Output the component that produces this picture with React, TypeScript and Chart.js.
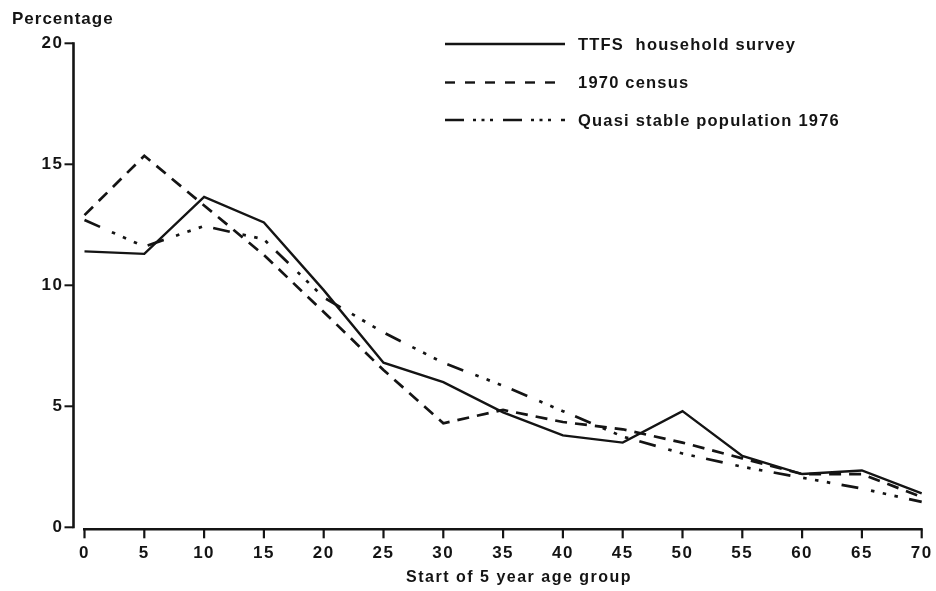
import React, { useEffect, useRef } from 'react';
import { Chart, registerables } from 'chart.js';

Chart.register(...registerables);

// ---- data ----
const ageGroups = ['0', '5', '10', '15', '20', '25', '30', '35', '40', '45', '50', '55', '60', '65', '70'];
const yTickStep = 5;
const yMin = 0;
const yMax = 20;
const ttfsSurvey = [11.4, 11.3, 13.65, 12.6, 9.8, 6.8, 6.0, 4.75, 3.8, 3.5, 4.8, 2.95, 2.2, 2.35, 1.4];
const census1970 = [12.9, 15.35, 13.3, 11.25, 8.9, 6.5, 4.3, 4.85, 4.35, 4.05, 3.5, 2.85, 2.2, 2.2, 1.25];
const quasiStable1976 = [12.7, 11.6, 12.45, 11.9, 9.5, 8.05, 6.8, 5.85, 4.8, 3.75, 3.05, 2.5, 2.05, 1.6, 1.05];
const seriesNames = ['TTFS  household survey', '1970 census', 'Quasi stable population 1976'];
const yAxisTitle = 'Percentage';
const xAxisTitle = 'Start of 5 year age group';

const INK = '#141414';
const FONT = '"Liberation Sans", Arial, Helvetica, sans-serif';

const plotDashes: number[][] = [[], [12, 8], [17, 13, 3.5, 8.5, 3.5, 8.5, 3.5, 11.5]];
const legendDashes: number[][] = [[], [10, 10], [19, 9, 3, 5.5, 3, 5.5, 3, 10]];

const paperAxes = {
  id: 'paperAxes',
  beforeDraw(chart: any) {
    chart.ctx.letterSpacing = '1.5px';
  },
  afterDraw(chart: any) {
    const ctx: CanvasRenderingContext2D = chart.ctx;
    const xs = chart.scales.x;
    const ys = chart.scales.y;
    const { left, right, bottom } = chart.chartArea;
    ctx.save();
    ctx.strokeStyle = INK;
    ctx.fillStyle = INK;
    ctx.setLineDash([]);
    ctx.lineCap = 'butt';

    // y axis line (drawn slightly left of the plotting origin, as in the print)
    const yAxisX = left - 11;
    ctx.lineWidth = 2.6;
    ctx.beginPath();
    ctx.moveTo(yAxisX, ys.getPixelForValue(yMax) - 1);
    ctx.lineTo(yAxisX, ys.getPixelForValue(yMin) + 1);
    ctx.stroke();
    ctx.lineWidth = 2;
    ys.ticks.forEach((t: any) => {
      const py = ys.getPixelForValue(t.value);
      ctx.beginPath();
      ctx.moveTo(yAxisX - 9, py);
      ctx.lineTo(yAxisX, py);
      ctx.stroke();
    });

    // x axis line
    const xAxisY = bottom + 2;
    ctx.lineWidth = 2.6;
    ctx.beginPath();
    ctx.moveTo(left - 1.5, xAxisY);
    ctx.lineTo(right + 1, xAxisY);
    ctx.stroke();
    ctx.lineWidth = 2.2;
    xs.ticks.forEach((_t: any, i: number) => {
      const px = xs.getPixelForTick(i);
      ctx.beginPath();
      ctx.moveTo(px, xAxisY);
      ctx.lineTo(px, xAxisY + 9);
      ctx.stroke();
    });

    // y title at top-left
    ctx.font = `bold 17px ${FONT}`;
    (ctx as any).letterSpacing = '1px';
    ctx.textAlign = 'left';
    ctx.textBaseline = 'alphabetic';
    ctx.fillText(yAxisTitle, 12, 24);

    // x title (set slightly right of the axis centre, as printed)
    ctx.font = `bold 16px ${FONT}`;
    (ctx as any).letterSpacing = '1.5px';
    ctx.textAlign = 'center';
    ctx.textBaseline = 'middle';
    ctx.fillText(xAxisTitle, (left + right) / 2 + 16, 578);

    // legend
    const rowsY = [44, 82.5, 120];
    const lx0 = 445;
    const lx1 = 565;
    const tx = 578;
    (ctx as any).letterSpacing = '1.2px';
    ctx.font = `bold 16.5px ${FONT}`;
    ctx.textAlign = 'left';
    ctx.textBaseline = 'middle';
    chart.data.datasets.forEach((ds: any, i: number) => {
      const yy = rowsY[i];
      ctx.lineWidth = 2.4;
      ctx.setLineDash(legendDashes[i]);
      ctx.beginPath();
      ctx.moveTo(lx0, yy);
      ctx.lineTo(lx1, yy);
      ctx.stroke();
      ctx.setLineDash([]);
      ctx.fillText(ds.label, tx, yy + 1);
    });
    ctx.restore();
  },
};

export default function App() {
  const canvasRef = useRef<HTMLCanvasElement | null>(null);

  useEffect(() => {
    if (!canvasRef.current) return;
    const series = [ttfsSurvey, census1970, quasiStable1976];
    const chart = new Chart(canvasRef.current, {
      type: 'line',
      data: {
        labels: ageGroups,
        datasets: series.map((values, i) => ({
          label: seriesNames[i],
          data: values,
          borderColor: INK,
          backgroundColor: INK,
          borderWidth: i === 0 ? 2.4 : 2.7,
          borderDash: plotDashes[i],
          borderCapStyle: 'butt' as const,
          borderJoinStyle: 'miter' as const,
          pointRadius: 0,
          pointHoverRadius: 0,
          tension: 0,
          fill: false,
        })),
      },
      options: {
        responsive: false,
        animation: false,
        events: [],
        layout: { padding: { top: 43.3, right: 14.3, bottom: 0, left: 0 } },
        plugins: {
          legend: { display: false },
          tooltip: { enabled: false },
          title: { display: false },
        },
        scales: {
          x: {
            type: 'category',
            offset: false,
            grid: { display: false, drawTicks: false },
            border: { display: false },
            ticks: {
              color: INK,
              font: { family: FONT, size: 17, weight: 'bold' },
              padding: 16,
              maxRotation: 0,
              autoSkip: false,
            },
            title: { display: false },
            afterFit(scale: any) {
              scale.height = 63.7;
              scale.paddingLeft = 0;
              scale.paddingRight = 0;
            },
          },
          y: {
            type: 'linear',
            min: yMin,
            max: yMax,
            grid: { display: false, drawTicks: false },
            border: { display: false },
            ticks: {
              stepSize: yTickStep,
              color: INK,
              font: { family: FONT, size: 17, weight: 'bold' },
              padding: 21,
            },
            afterFit(scale: any) {
              scale.width = 84.5;
              scale.paddingTop = 0;
              scale.paddingBottom = 0;
            },
          },
        },
      },
      plugins: [paperAxes],
    });
    return () => chart.destroy();
  }, []);

  return (
    <div style={{ position: 'absolute', left: 0, top: 0, width: 936, height: 591, background: '#fff' }}>
      <canvas ref={canvasRef} width={936} height={591} style={{ display: 'block' }} />
    </div>
  );
}
